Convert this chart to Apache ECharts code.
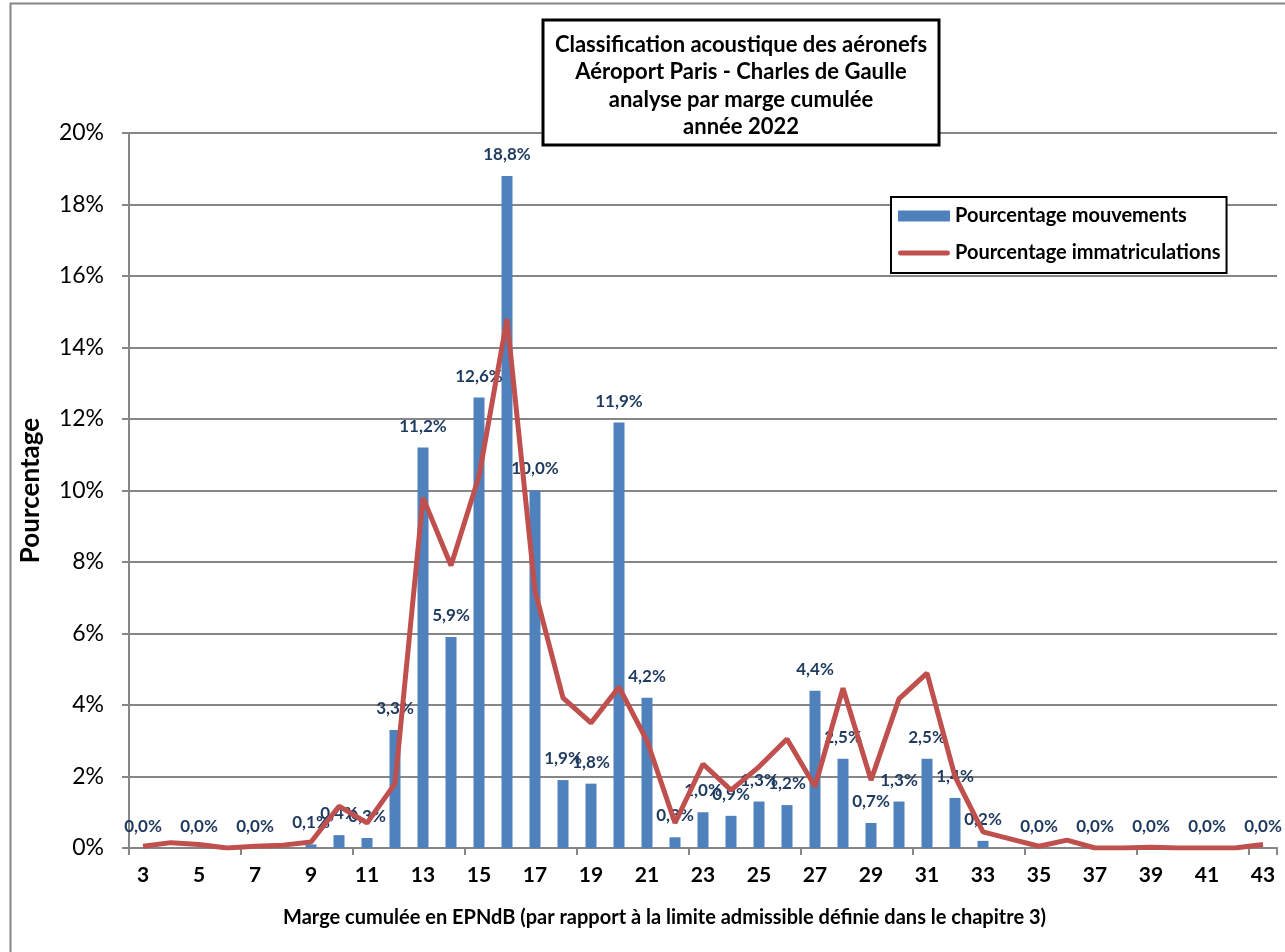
<!DOCTYPE html>
<html>
<head>
<meta charset="utf-8">
<script src="https://cdn.jsdelivr.net/npm/echarts@6/dist/echarts.min.js"></script>
<style>
html,body{margin:0;padding:0;background:#fff;}
#c{width:1285px;height:952px;}
</style>
</head>
<body>
<div id="c"></div>
<script>
var categories = ['3','4','5','6','7','8','9','10','11','12','13','14','15','16','17','18','19','20','21','22','23','24','25','26','27','28','29','30','31','32','33','34','35','36','37','38','39','40','41','42','43'];
var mouvements = [0,null,0,null,0,null,0.1,0.36,0.28,3.3,11.2,5.9,12.6,18.8,10.0,1.9,1.8,11.9,4.2,0.3,1.0,0.9,1.3,1.2,4.4,2.5,0.7,1.3,2.5,1.4,0.2,null,0,null,0,null,0,null,0,null,0];
var immatriculations = [0.05,0.15,0.1,0.0,0.05,0.08,0.17,1.17,0.7,1.8,9.8,7.9,10.4,14.8,7.2,4.2,3.5,4.5,3.0,0.7,2.35,1.62,2.27,3.05,1.72,4.47,1.9,4.17,4.89,2.0,0.45,0.25,0.05,0.22,0.0,0.0,0.02,0.0,0.0,0.0,0.1];
var yTicks = {min:0, max:20, interval:2};
var titleLines = ['Classification acoustique des aéronefs','Aéroport Paris - Charles de Gaulle','analyse par marge cumulée','année 2022'];
var xTitle = 'Marge cumulée en EPNdB (par rapport à la limite admissible définie dans le chapitre 3)';

var FONT = 'Lato';
var lineIcon = 'path://M0,0L0.01,0L0.01,0.01Z M0,11L0.01,11L0.01,11.01Z M2.5,3A2.5,2.5 0 0 0 2.5,8L49.5,8A2.5,2.5 0 0 0 49.5,3Z';
var chart = echarts.init(document.getElementById('c'), null, {renderer:'canvas'});
chart.setOption({
  backgroundColor:'#fff',
  animation:false,
  textStyle:{fontFamily:FONT},
  legend:{
    orient:'vertical',
    left:891, top:197,
    padding:[9,6,10,7],
    itemGap:17,
    itemWidth:52, itemHeight:11,
    itemTextGap:5,
    borderColor:'#000', borderWidth:2,
    backgroundColor:'#fff',
    textStyle:{fontFamily:FONT,fontWeight:'bold',fontSize:20,color:'#000'},
    data:[{name:'Pourcentage mouvements',icon:'rect'},{name:'Pourcentage immatriculations',icon:lineIcon}],
    z:10
  },
  grid:{left:129,right:8,top:133,bottom:104,containLabel:false},
  xAxis:{
    type:'category',
    data:categories,
    boundaryGap:true,
    axisLine:{lineStyle:{color:'#868686',width:2}},
    axisTick:{show:true,interval:3,alignWithLabel:false,length:7,lineStyle:{color:'#868686',width:2}},
    axisLabel:{interval:1,fontFamily:FONT,fontWeight:'bold',fontSize:21,color:'#000',margin:17}
  },
  yAxis:{
    type:'value',
    min:yTicks.min,max:yTicks.max,interval:yTicks.interval,
    name:'Pourcentage',
    nameLocation:'middle',
    nameGap:85,
    nameTextStyle:{fontFamily:FONT,fontWeight:'bold',fontSize:26,color:'#000'},
    axisLine:{show:true,lineStyle:{color:'#868686',width:2}},
    axisTick:{show:true,length:7,lineStyle:{color:'#868686',width:2}},
    axisLabel:{formatter:'{value}%',fontFamily:FONT,fontSize:23,color:'#000',margin:25},
    splitLine:{show:true,lineStyle:{color:'#868686',width:2}}
  },
  graphic:[
    {type:'rect',left:8,top:1,shape:{width:1290,height:960},style:{fill:'none',stroke:'#868686',lineWidth:2},silent:true,z:-1},
    {type:'group',z:100,children:[
      {type:'rect',shape:{x:543,y:20,width:396,height:125},style:{fill:'#fff',stroke:'#000',lineWidth:3},z:100},
      {type:'text',x:741,y:86,style:{text:titleLines.join('\n'),fontFamily:FONT,fontWeight:'bold',fontSize:22,lineHeight:27.5,fill:'#000',align:'center',verticalAlign:'middle'},z:101}
    ]},
    {type:'text',x:283,y:918,style:{text:xTitle,fontFamily:FONT,fontWeight:'bold',fontSize:20,fill:'#000',verticalAlign:'middle'}}
  ],
  series:[
    {
      name:'Pourcentage mouvements',
      type:'bar',
      data:mouvements,
      barWidth:11,
      itemStyle:{color:'#4F81BD'},
      label:{show:true,position:'top',distance:13,fontFamily:FONT,fontWeight:'bold',fontSize:17,color:'#1F3A5F',
        formatter:function(p){return p.value==null?'':p.value.toFixed(1).replace('.',',')+'%';}},
      labelLayout:{hideOverlap:false},
      z:2
    },
    {
      name:'Pourcentage immatriculations',
      type:'line',
      data:immatriculations,
      symbol:'none',
      lineStyle:{color:'#C0504D',width:5},
      itemStyle:{color:'#C0504D'},
      z:3
    }
  ]
});
</script>
</body>
</html>
